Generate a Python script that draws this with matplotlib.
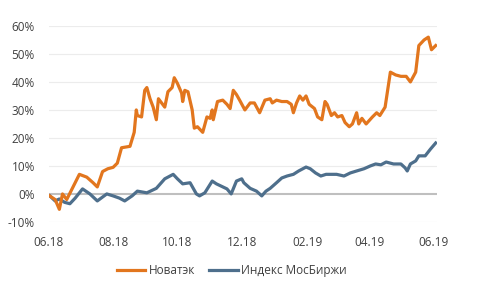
import matplotlib
matplotlib.use("Agg")
import matplotlib.pyplot as plt

# Days since 2018-06-01 and cumulative returns (%)
novatek_days = [0, 6, 10, 13, 17, 23, 29, 36, 42, 46, 51, 56, 61, 65, 69, 77, 81, 83, 84, 88,
                91, 93, 96, 99, 102, 104, 107, 110, 113, 117, 119, 122, 126, 127, 129, 132,
                136, 138, 141, 146, 150, 153, 155, 156, 160, 165, 169, 172, 175, 178, 181,
                186, 191, 195, 200, 205, 210, 212, 216, 221, 226, 230, 232, 235, 238, 241,
                244, 247, 252, 255, 259, 262, 264, 268, 271, 274, 278, 281, 285, 288, 292,
                294, 297, 301, 307, 311, 314, 319, 321, 324, 329, 334, 339, 343, 348, 351,
                356, 360, 363, 367]
novatek_vals = [-0.5, -2, -5.5, 0, -2, 2.5, 7, 6, 4, 2.5, 8, 9, 9.5, 11, 16.5, 17, 22, 30, 28, 27.5,
                37, 38, 34, 31, 26.5, 34, 32.5, 31, 36.5, 38, 41.5, 39.5, 36, 33, 37, 36.5,
                30, 23.5, 24, 22, 27.5, 27, 30, 26.5, 33, 33.5, 32, 30.5, 37, 35.5, 33.5,
                30, 32.5, 32.5, 29, 33.5, 34, 32.5, 33.5, 33, 33, 32, 29, 32.5, 35, 33.5,
                35, 32, 30.5, 27.5, 26.5, 33, 32, 28, 29, 27.5, 28, 25.5, 24, 25, 29,
                25, 27, 25, 27.5, 29, 28, 31, 36, 43.5, 42.5, 42, 42, 40, 43.5, 53,
                55, 56, 51.5, 53]

moex_days = [1, 6, 10, 15, 20, 25, 32, 39, 46, 55, 61, 67, 72, 79, 84, 93, 102, 110, 118, 122,
             127, 134, 140, 143, 148, 155, 159, 169, 173, 178, 183, 185, 191, 197, 202, 206, 210,
             216, 221, 226, 232, 237, 244, 248, 253, 258, 263, 268, 273, 280, 286, 292, 299, 305,
             310, 315, 320, 327, 334, 338, 340, 343, 348, 351, 357, 362, 367]
moex_vals = [-0.7, -2.5, -1.8, -3, -3.5, -1.5, 1.8, 0, -2.5, 0, -0.7, -1.5, -2.5, -0.7, 1, 0.4, 2, 5.4, 7, 5.4,
             3.6, 4, 0, -0.7, 0.4, 4.6, 3.6, 1.8, 0, 4.6, 5.4, 4, 2, 1, -0.7, 1, 2,
             4, 5.7, 6.4, 7, 8.2, 9.6, 9, 7.5, 6.4, 7, 7, 7, 6.4, 7.5, 8.2, 9, 10,
             10.7, 10.4, 11.4, 10.7, 10.7, 9.3, 8.2, 10.7, 11.8, 13.6, 13.6, 16, 18.2]

series_names = ["Новатэк", "Индекс МосБиржи"]
tick_days = [0, 61, 122, 183, 245, 304, 365]
tick_labels = ["06.18", "08.18", "10.18", "12.18", "02.19", "04.19", "06.19"]
y_ticks = [-10, 0, 10, 20, 30, 40, 50, 60]

plt.rcParams['font.family'] = ['Open Sans', 'DejaVu Sans']

fig = plt.figure(figsize=(4.88, 2.82), dpi=100)
ax = fig.add_axes([0.100, 0.213, 0.795, 0.695])

for y in y_ticks:
    if y != 0:
        ax.axhline(y, color="#ececec", lw=0.8, zorder=0)
ax.axhline(0, color="#bfbfbf", lw=1.5, zorder=1)

ax.plot(novatek_days, novatek_vals, color="#E2761E", lw=2.3, label=series_names[0], zorder=3,
        solid_joinstyle="round")
ax.plot(moex_days, moex_vals, color="#4E6F8C", lw=2.3, label=series_names[1], zorder=2,
        solid_joinstyle="round")

ax.set_xlim(0, 368)
ax.set_ylim(-10, 60)
ax.set_xticks(tick_days)
ax.set_xticklabels(tick_labels)
ax.set_yticks(y_ticks)
ax.set_yticklabels([f"{v}%" for v in y_ticks])
ax.tick_params(axis="both", length=0, labelsize=8.5, colors="#404040")
ax.tick_params(axis="y", pad=10)
ax.tick_params(axis="x", pad=10)
for s in ax.spines.values():
    s.set_visible(False)

fig.legend(loc="center", bbox_to_anchor=(0.475, 0.042), ncol=2, frameon=False,
           fontsize=8.5, handlelength=2.4, columnspacing=1.2, handletextpad=0.3,
           labelcolor="#404040")

fig.savefig("out.png", dpi=100)
